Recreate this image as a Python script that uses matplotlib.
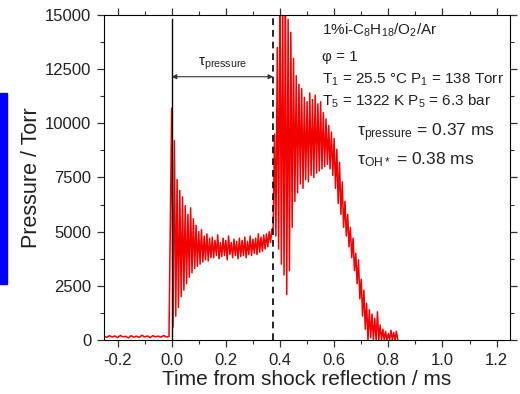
import numpy as np
import matplotlib
matplotlib.use("Agg")
import matplotlib.pyplot as plt
from matplotlib.patches import Rectangle
from matplotlib.ticker import MultipleLocator

plt.rcParams['font.family'] = ['Liberation Sans', 'DejaVu Sans']
plt.rcParams['mathtext.fontset'] = 'custom'
plt.rcParams['mathtext.rm'] = 'Liberation Sans'
plt.rcParams['mathtext.it'] = 'Liberation Sans:italic'

# pressure trace before shock reflection (t = -0.25 .. -0.01 ms, step 0.01)
t_pre = np.arange(-0.25, -0.005, 0.01)
p_pre = [180, 120, 200, 140, 190, 110, 210, 150, 170, 100, 200, 130, 180,
         120, 220, 140, 190, 110, 200, 150, 180, 130, 210, 140, 160]

# pressure trace after shock reflection (t = 0 .. 0.835 ms, step 0.005)
t_post = np.arange(0, 168) * 0.005
p_post = [
    10700, 600, 9200, 1100, 7400, 1500, 6900, 2000, 6600, 2300,     # 0.00
    6200, 2600, 5800, 2900, 6100, 3100, 5600, 3300, 5300, 3400,     # 0.05
    5000, 3500, 5100, 3600, 4800, 3700, 4900, 3650, 4700, 3800,     # 0.10
    4750, 3800, 4600, 3900, 4850, 3750, 4500, 3850, 4700, 3900,     # 0.15
    4600, 3700, 4800, 3950, 4500, 3800, 4650, 3900, 4550, 3750,     # 0.20
    4700, 3850, 4600, 3900, 4750, 3800, 4550, 3950, 4800, 3900,     # 0.25
    4650, 4000, 4700, 3950, 4900, 4050, 4750, 4100, 4850, 4200,     # 0.30
    4900, 4300, 5000, 4500, 5100, 5200, 9500, 4800, 13500, 4200,    # 0.35
    16500, 3500, 15500, 3000, 16000, 2100, 14800, 3200, 14200, 5200,  # 0.40
    13000, 6400, 12200, 6800, 11800, 7200, 11600, 7000, 11200, 7400,  # 0.45
    11000, 7300, 11400, 7600, 11100, 7500, 11300, 7700, 10900, 7800,  # 0.50
    11000, 7900, 10500, 8000, 10200, 8100, 9900, 7900, 9600, 7600,   # 0.55
    9300, 7000, 8800, 6300, 8200, 5800, 7300, 5200, 6400, 4800,     # 0.60
    5800, 4300, 5200, 3800, 4700, 3200, 4000, 2600, 3700, 1900,     # 0.65
    2800, 1100, 2300, 500, 1700, 0, 1400, 100, 1200, 0,             # 0.70
    1000, 0, 1300, 0, 700, 0, 500, 0, 400, 0,                       # 0.75
    300, 0, 450, 0, 350, 0, 400, 0,                                 # 0.80
]

t_shock = 0.0
t_ign = 0.375
arrow_p = 12150

x_ticks = [-0.2, 0.0, 0.2, 0.4, 0.6, 0.8, 1.0, 1.2]
y_ticks = [0, 2500, 5000, 7500, 10000, 12500, 15000]

t_all = np.concatenate([t_pre, t_post])
p_all = np.concatenate([p_pre, p_post])

fig = plt.figure(figsize=(5.2, 3.94), dpi=100)
ax = fig.add_axes([0.2, 0.137, 0.781, 0.825])

ax.plot(t_all, p_all, color='#f20000', linewidth=1.1)

ax.plot([t_shock, t_shock], [0, 14800], color='black', linewidth=1.0)
ax.axvline(t_ign, color='black', linestyle=(0, (4, 3)), linewidth=1.2)

ax.annotate('', xy=(t_shock, arrow_p), xytext=(t_ign, arrow_p),
            arrowprops=dict(arrowstyle='<|-|>', color='#333333', lw=0.8,
                            mutation_scale=7, shrinkA=0, shrinkB=0))
ax.text((t_shock + t_ign) / 2, arrow_p + 200, r'τ$_{\mathregular{pressure}}$',
        ha='center', va='bottom', fontsize=11, color='#222222')

info = [
    (0.954, r'1%i-C$_8$H$_{18}$/O$_2$/Ar', 0.537, 11),
    (0.871, 'φ = 1', 0.537, 11),
    (0.800, r'T$_1$ = 25.5 °C P$_1$ = 138 Torr', 0.537, 11),
    (0.735, r'T$_5$ = 1322 K P$_5$ = 6.3 bar', 0.537, 11),
    (0.637, r'τ$_{\mathregular{pressure}}$ = 0.37 ms', 0.623, 12.5),
    (0.554, r'τ$_{\mathregular{OH*}}$ = 0.38 ms', 0.623, 12.5),
]
for y, s, x, fs in info:
    ax.text(x, y, s, transform=ax.transAxes, fontsize=fs, color='#222222',
            ha='left', va='center')

ax.set_xlim(-0.25, 1.25)
ax.set_ylim(0, 15000)
ax.set_xticks(x_ticks)
ax.set_xticklabels([f'{v:.1f}' for v in x_ticks])
ax.set_yticks(y_ticks)
ax.xaxis.set_minor_locator(MultipleLocator(0.1))
ax.yaxis.set_minor_locator(MultipleLocator(1250))
ax.tick_params(which='both', direction='out', top=True, right=True,
               labelsize=12, labelcolor='#222222', color='#333333')
ax.tick_params(which='major', length=5, width=0.9, pad=4)
ax.tick_params(which='minor', length=3, width=0.8)

ax.set_xlabel('Time from shock reflection / ms', fontsize=15, color='#222222', labelpad=2)
ax.set_ylabel('Pressure / Torr', fontsize=15.5, color='#222222', labelpad=2)

fig.patches.append(Rectangle((0.0, 0.279), 0.0135, 0.485, transform=fig.transFigure,
                             color='#0000ff', zorder=5))

fig.savefig('out.png', dpi=100)
